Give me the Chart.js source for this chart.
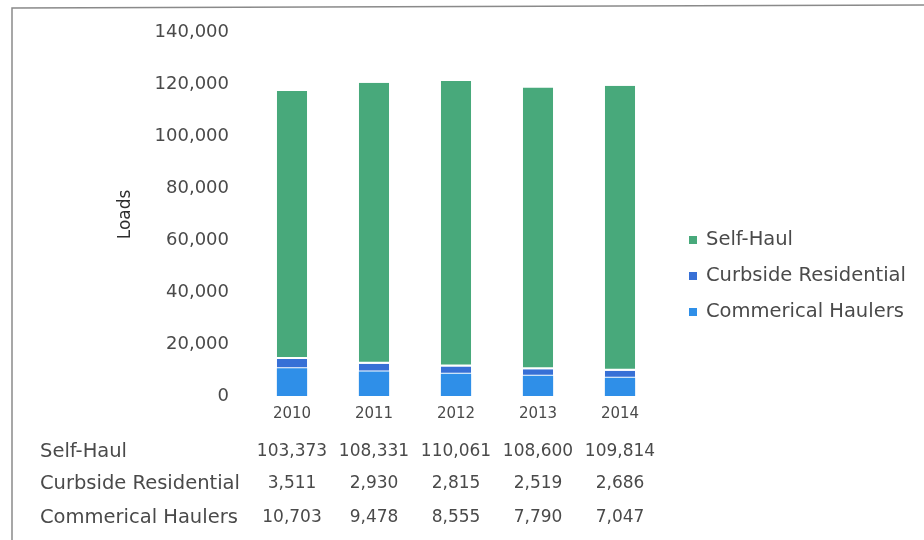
<!DOCTYPE html>
<html>
<head>
<meta charset="utf-8">
<script src="https://cdn.jsdelivr.net/npm/chart.js@4.4.1/dist/chart.umd.min.js"></script>
<style>
    html, body { margin: 0; padding: 0; background: #fff; }
    #wrap { width: 924px; height: 540px; position: relative; }
</style>
</head>
<body>
<div id="wrap"><canvas id="loadsChart"></canvas></div>
<script>
const years = ['2010', '2011', '2012', '2013', '2014'];
const selfHaul = [103373, 108331, 110061, 108600, 109814];
const curbside = [3511, 2930, 2815, 2519, 2686];
const commercial = [10703, 9478, 8555, 7790, 7047];
const yTicks = [0, 20000, 40000, 60000, 80000, 100000, 120000, 140000];

const FONT = "'DejaVu Sans', sans-serif";
const TEXT = '#4a4a4a';
const GREEN = '#48a97b';
const DARK_BLUE = '#3770d6';
const LIGHT_BLUE = '#2f8fe8';

// frame lines of the scanned page
const framePlugin = {
    id: 'frame',
    beforeDraw(chart) {
        const ctx = chart.ctx;
        ctx.save();
        ctx.strokeStyle = '#8a8a8a';
        ctx.lineWidth = 1.5;
        ctx.beginPath();
        ctx.moveTo(12, 540);
        ctx.lineTo(12, 8);
        ctx.lineTo(924, 5);
        ctx.stroke();
        ctx.restore();
    }
};

// legend on the right, items in reverse stack order
const legendPlugin = {
    id: 'sideLegend',
    afterDraw(chart) {
        const ctx = chart.ctx;
        const items = chart.data.datasets.slice().reverse();
        ctx.save();
        ctx.font = '19.5px ' + FONT;
        ctx.textBaseline = 'middle';
        items.forEach((ds, i) => {
            const y = 240 + i * 36;
            ctx.fillStyle = ds.backgroundColor;
            ctx.fillRect(689, y - 4, 8, 8);
            ctx.fillStyle = TEXT;
            ctx.fillText(ds.label, 706, y);
        });
        ctx.restore();
    }
};

// data table under the x axis
const tablePlugin = {
    id: 'dataTable',
    afterDraw(chart) {
        const ctx = chart.ctx;
        const x = chart.scales.x;
        const rows = chart.data.datasets.slice().reverse();
        const rowY = [452, 484, 518];
        ctx.save();
        ctx.textBaseline = 'middle';
        ctx.fillStyle = TEXT;
        rows.forEach((ds, r) => {
            ctx.font = '19.5px ' + FONT;
            ctx.textAlign = 'left';
            ctx.fillText(ds.label, 40, rowY[r]);
            ctx.font = '17px ' + FONT;
            ctx.textAlign = 'center';
            ds.data.forEach((v, i) => {
                ctx.fillText(v.toLocaleString('en-US'), x.getPixelForValue(i), rowY[r]);
            });
        });
        ctx.restore();
    }
};

const ctx = document.getElementById('loadsChart').getContext('2d');
new Chart(ctx, {
    type: 'bar',
    data: {
        labels: years,
        datasets: [
            {
                label: 'Commerical Haulers',
                data: commercial,
                backgroundColor: LIGHT_BLUE,
                borderWidth: 0
            },
            {
                label: 'Curbside Residential',
                data: curbside,
                backgroundColor: DARK_BLUE,
                borderColor: '#ffffff',
                borderWidth: { bottom: 1 },
                borderSkipped: false
            },
            {
                label: 'Self-Haul',
                data: selfHaul,
                backgroundColor: GREEN,
                borderColor: '#ffffff',
                borderWidth: { bottom: 2 },
                borderSkipped: false
            }
        ]
    },
    options: {
        responsive: true,
        maintainAspectRatio: false,
        animation: false,
        layout: { padding: { left: 109, right: 263, top: 31, bottom: 0 } },
        datasets: { bar: { barPercentage: 0.9, categoryPercentage: 0.41 } },
        plugins: {
            legend: { display: false },
            tooltip: { enabled: false }
        },
        scales: {
            x: {
                stacked: true,
                grid: { display: false, drawTicks: false },
                border: { display: false },
                ticks: { color: TEXT, font: { family: FONT, size: 15 }, padding: 9 },
                afterFit: (s) => { s.height = 144; }
            },
            y: {
                stacked: true,
                min: 0,
                max: 140000,
                afterBuildTicks: (s) => { s.ticks = yTicks.map((v) => ({ value: v })); },
                grid: { display: false, drawTicks: false },
                border: { display: false },
                ticks: {
                    color: TEXT,
                    font: { family: FONT, size: 18 },
                    padding: 22,
                    callback: (v) => v.toLocaleString('en-US')
                },
                title: {
                    display: true,
                    text: 'Loads',
                    color: '#2e2e2e',
                    font: { family: FONT, size: 17 },
                    padding: { top: 6, bottom: 4 }
                },
                afterFit: (s) => { s.width = 142; }
            }
        }
    },
    plugins: [framePlugin, legendPlugin, tablePlugin]
});
</script>
</body>
</html>
